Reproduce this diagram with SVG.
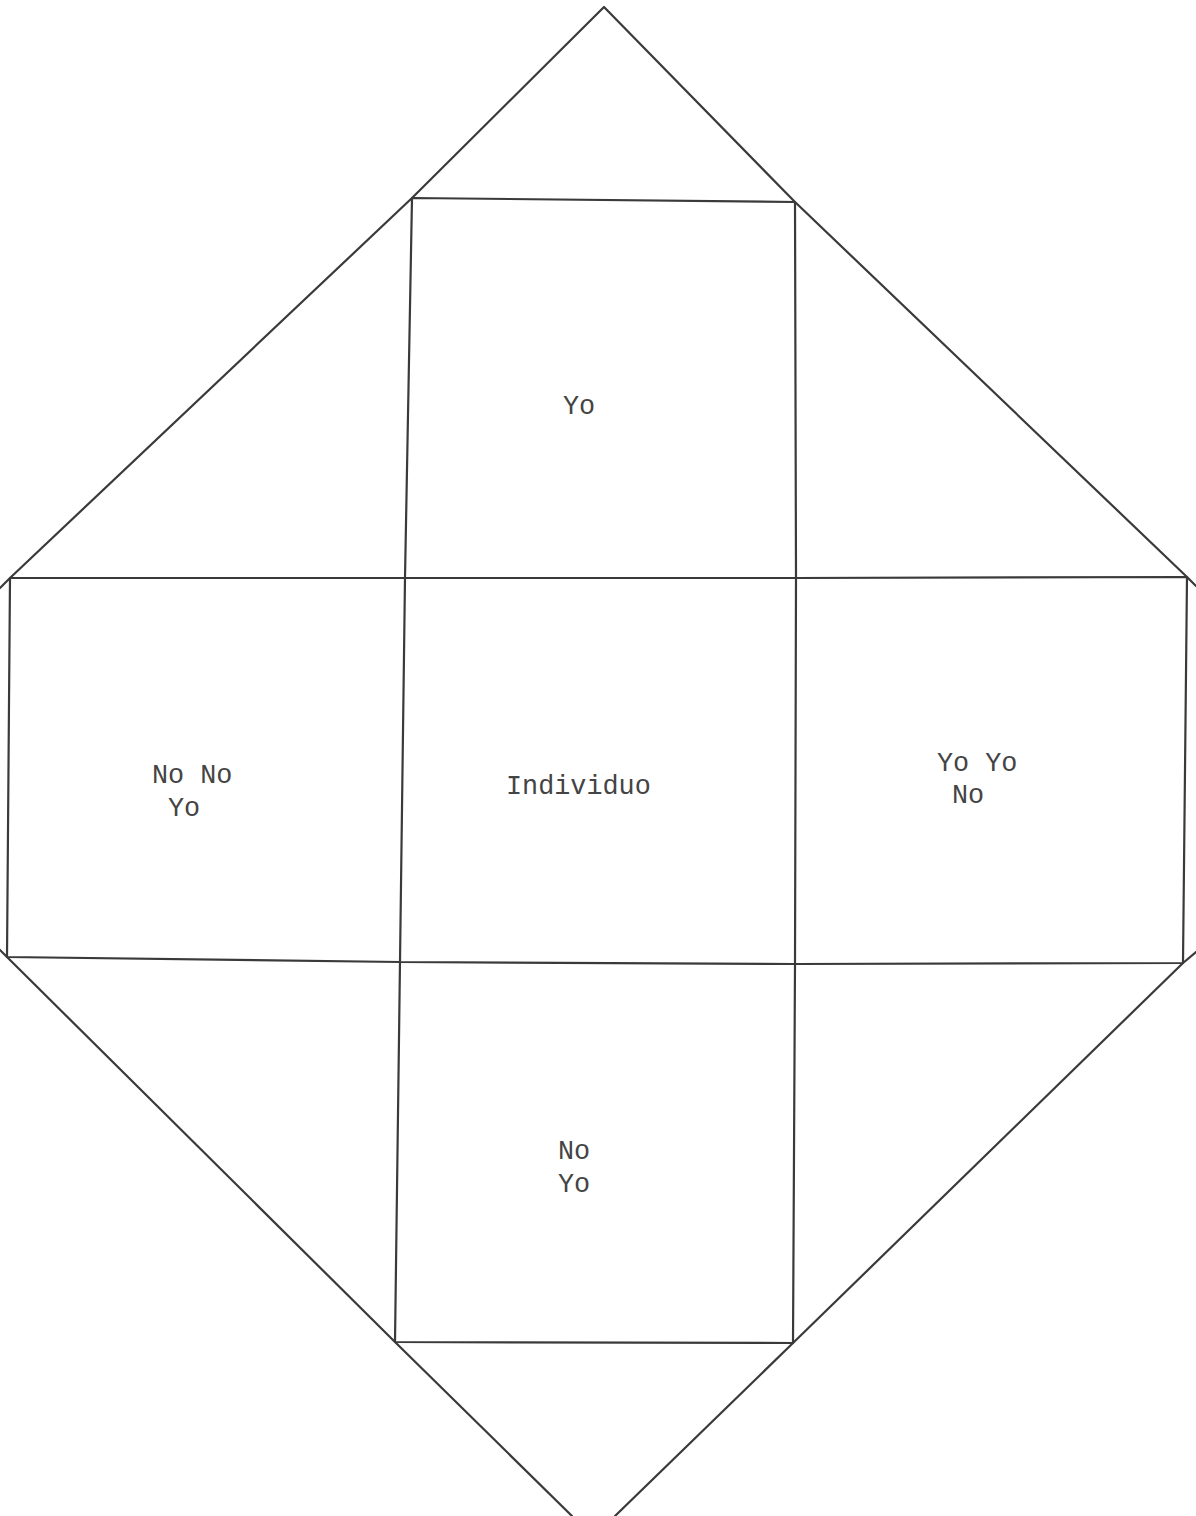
<svg xmlns="http://www.w3.org/2000/svg" width="1196" height="1516" viewBox="0 0 1196 1516">
<style>
.ln{stroke:#3a3a3a;stroke-width:2.2;fill:none;stroke-linecap:round;stroke-linejoin:round}
.t{font-family:"Liberation Mono","Courier New",monospace;font-size:26.8px;fill:#444}
</style>
<rect width="1196" height="1516" fill="#ffffff"/>
<g id="connectors">
<polyline class="ln" points="0,588 10,578 412,198 604,7 795,202 1187,577 1196,586"/>
<polyline class="ln" points="0,950 7,957 395,1342 572,1516"/>
<polyline class="ln" points="1196,952 1183,963 793,1343 615,1516"/>
</g>
<g id="top"><polyline class="ln" points="405,578 412,198 795,202 796,578"/><text class="t" x="563" y="414">Yo</text></g>
<g id="center"><polygon class="ln" points="405,578 796,578 795,964 400,962"/><text class="t" x="506" y="794">Individuo</text></g>
<g id="left"><polyline class="ln" points="405,578 10,578 7,957 400,962"/><text class="t" x="152" y="783">No No</text><text class="t" x="168" y="816">Yo</text></g>
<g id="right"><polyline class="ln" points="796,578 1187,577 1183,963 795,964"/><text class="t" x="937" y="771">Yo Yo</text><text class="t" x="952" y="803">No</text></g>
<g id="bottom"><polyline class="ln" points="400,962 395,1342 793,1343 795,964"/><text class="t" x="558" y="1159">No</text><text class="t" x="558" y="1192">Yo</text></g>
</svg>
